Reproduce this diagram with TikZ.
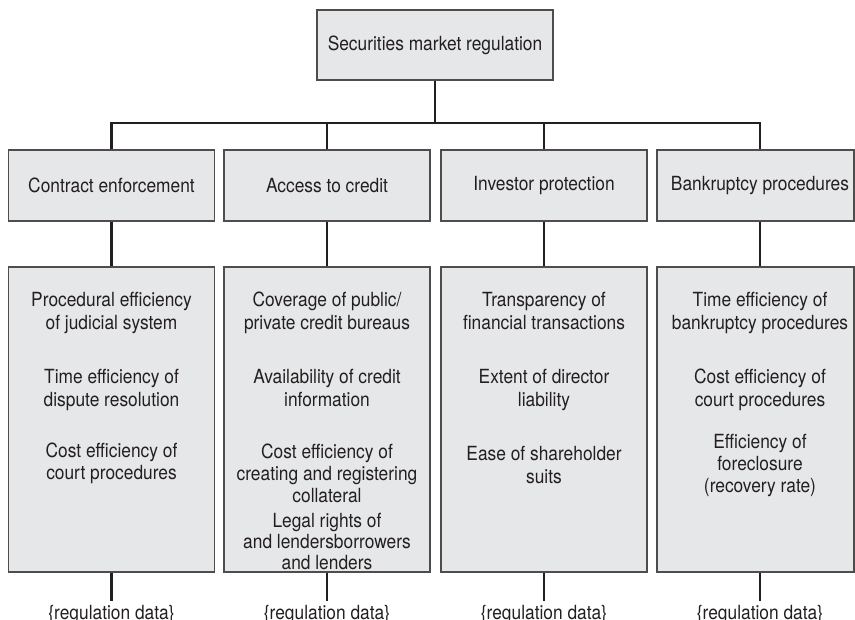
\documentclass[tikz,border=0pt]{standalone}
\usepackage{fontspec}
\setmainfont{TeX Gyre Heros}[FakeStretch=0.89]
\usepackage{tikz}
\usepackage{xcolor}

\definecolor{boxgray}{RGB}{230,231,232}
\definecolor{inkgray}{RGB}{35,31,32}

\tikzset{
    regbox/.style={draw=inkgray!80, fill=boxgray, line width=1.1pt, inner sep=0pt,
                   minimum width=206pt, minimum height=71pt},
    itembox/.style={regbox, minimum height=305pt},
    itemtext/.style={align=center, anchor=base, inner sep=0pt},
    datatext/.style={anchor=north, inner xsep=0pt, inner ysep=4pt},
    link/.style={inkgray, line width=2.5pt},
}

\begin{document}
\begin{tikzpicture}[x=1pt, y=-1pt,
    every node/.style={font=\fontsize{19.5}{23}\selectfont, text=inkgray}]
                \useasboundingbox (0,0) rectangle (855,620);

                %% top
                \node[regbox, minimum width=236pt, minimum height=70pt] (top) at (435,45) {Securities market regulation};
                \coordinate (bar) at (0,123);

                %% categories
                \node[regbox] (cat1) at (111.5,185.5) {Contract enforcement};
                \node[regbox] (cat2) at (327,185.5)   {Access to credit};
                \node[regbox] (cat3) at (544,185.5)   {Investor protection};
                \node[regbox, minimum width=197pt] (cat4) at (755.5,185.5) {\hspace*{9pt}Bankruptcy procedures};

                %% indicator boxes
                \node[itembox] (det1) at (111.5,419.5) {};
                \node[itembox] (det2) at (327,419.5)   {};
                \node[itembox] (det3) at (544,419.5)   {};
                \node[itembox, minimum width=197pt] (det4) at (755.5,419.5) {};

                % Contract enforcement
                \node[itemtext] (ce1) at (111.5,330) {Procedural efficiency\\of judicial system};
                \node[itemtext] (ce2) at (111.5,407) {Time efficiency of\\dispute resolution};
                \node[itemtext] (ce3) at (111.5,480) {Cost efficiency of\\court procedures};

                % Access to credit
                \node[itemtext] (ac1) at (327,330) {Coverage of public/\\private credit bureaus};
                \node[itemtext] (ac2) at (327,407) {Availability of credit\\information};
                \node[itemtext, font=\fontsize{19.5}{22}\selectfont] (ac3) at (327,502.5) {Cost efficiency of\\creating and registering\\collateral};
                \node[itemtext, font=\fontsize{19.5}{21}\selectfont] (ac4) at (327,569) {Legal rights of\\and lendersborrowers\\and lenders};

                % Investor protection
                \node[itemtext] (ip1) at (544,330) {Transparency of\\financial transactions};
                \node[itemtext] (ip2) at (544,407) {Extent of director\\liability};
                \node[itemtext] (ip3) at (544,484) {Ease of shareholder\\suits};

                % Bankruptcy procedures
                \node[itemtext] (bp1) at (760,330) {Time efficiency of\\bankruptcy procedures};
                \node[itemtext] (bp2) at (760,407) {Cost efficiency of\\court procedures};
                \node[itemtext, font=\fontsize{19.5}{22}\selectfont] (bp3) at (760,492.5) {Efficiency of\\foreclosure\\(recovery rate)};

                %% data labels
                \node[datatext] (data1) at (111.5,601) {\{regulation data\}};
                \node[datatext] (data2) at (327,601)   {\{regulation data\}};
                \node[datatext] (data3) at (544,601)   {\{regulation data\}};
                \node[datatext] (data4) at (760,601)   {\{regulation data\}};

                %% connectors
                \coordinate (cat4top) at ([xshift=4.5pt]cat4.north);
                \coordinate (cat4bot) at ([xshift=4.5pt]cat4.south);
                \coordinate (det4top) at ([xshift=4.5pt]det4.north);
                \coordinate (det4bot) at ([xshift=4.5pt]det4.south);
                \draw[link] (top.south) -- (top.south |- bar);
                \draw[link] (cat1.north) -- (cat1.north |- bar) -- (cat4top |- bar) -- (cat4top);
                \draw[link] (cat2.north) -- (cat2.north |- bar);
                \draw[link] (cat3.north) -- (cat3.north |- bar);
                \foreach \i in {1,2,3} {
                    \draw[link] (cat\i.south) -- (det\i.north);
                    \draw[link] (det\i.south) -- (data\i.north);
                }
                \draw[link] (cat4bot) -- (det4top);
                \draw[link] (det4bot) -- (data4.north);

\end{tikzpicture}
\end{document}
